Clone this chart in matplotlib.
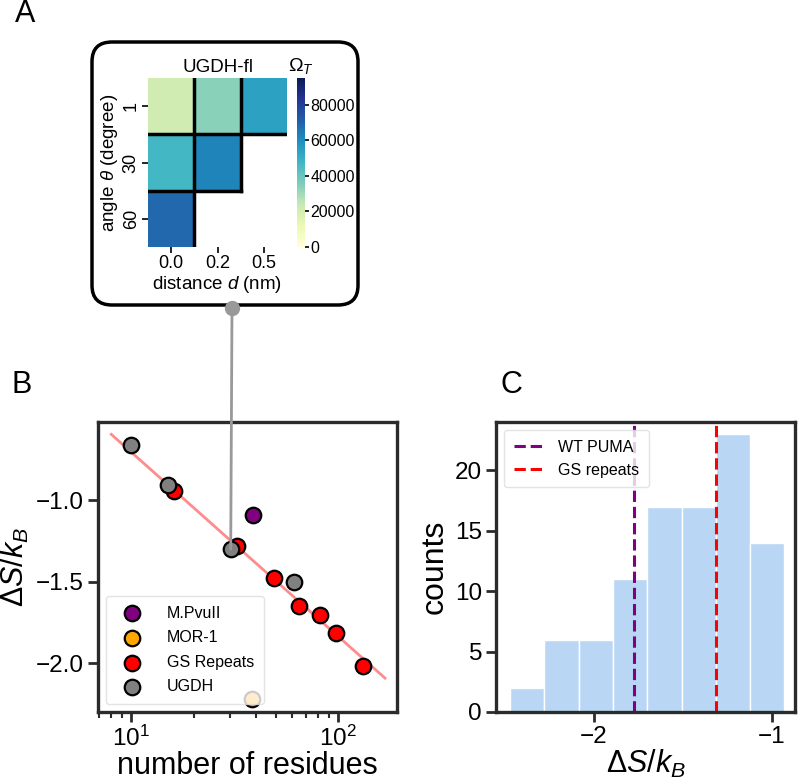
import numpy as np
import matplotlib
matplotlib.use("Agg")
import matplotlib.pyplot as plt
from matplotlib.patches import FancyBboxPatch, ConnectionPatch
from matplotlib.lines import Line2D

plt.rcParams['font.family'] = ['Liberation Sans', 'DejaVu Sans']
plt.rcParams['mathtext.fontset'] = 'custom'
plt.rcParams['mathtext.rm'] = 'Liberation Sans'
plt.rcParams['mathtext.it'] = 'Liberation Sans:italic'
plt.rcParams['axes.unicode_minus'] = True

# --- panel A: UGDH-fl heatmap (Omega_T) ---
angles = ["1", "30", "60"]
distances = ["0.0", "0.2", "0.5"]
omega = [[21000, 34000, 54000],
         [47000, 62000, np.nan],
         [69000, np.nan, np.nan]]
omega_ticks = [0, 20000, 40000, 60000, 80000]

# --- panel B: entropy vs residues ---
mpvuii_n = [38.5]
mpvuii_s = [-1.088]
mor1_n = [38.3]
mor1_s = [-2.218]
gs_n = [16.1, 32.4, 48.8, 64.7, 81.5, 97.3, 131]
gs_s = [-0.945, -1.28, -1.479, -1.647, -1.704, -1.816, -2.02]
ugdh_n = [10.0, 15.1, 30.2, 61]
ugdh_s = [-0.663, -0.908, -1.30, -1.50]
fit_n = [8.0, 168]
fit_s = [-0.596, -2.092]
highlight = (30.2, -1.30)

# --- panel C: histogram ---
bin_edges = [-2.47, -2.2775, -2.085, -1.8925, -1.70, -1.5075, -1.315, -1.1225, -0.93]
counts = [2, 6, 6, 11, 17, 17, 23, 14]
wt_puma = -1.774
gs_repeats = -1.314

spine_c = '#2b2b2b'

fig = plt.figure(figsize=(8, 7.84), dpi=100)
W, H = 800, 784


def px(x0, y0, x1, y1):
    return [x0 / W, 1 - y1 / H, (x1 - x0) / W, (y1 - y0) / H]


def style_axes(ax):
    for s in ax.spines.values():
        s.set_color(spine_c)
        s.set_linewidth(2.4)
    ax.tick_params(which='major', length=7, width=2, color=spine_c, labelsize=17.5, pad=3)
    ax.tick_params(which='minor', length=4, width=1.5, color=spine_c)


# box around panel A
box = FancyBboxPatch((92 / W, 1 - 305 / H), 266 / W, 263 / H,
                     boxstyle="round,pad=0,rounding_size=0.025",
                     transform=fig.transFigure, fill=False, lw=2.5, ec='black')
fig.patches.append(box)

axA = fig.add_axes(px(148, 78, 287, 247))
data = np.ma.masked_invalid(np.array(omega, dtype=float))
im = axA.imshow(data, cmap='YlGnBu', vmin=0, vmax=95000, aspect='auto')
for s in axA.spines.values():
    s.set_visible(False)
axA.set_xticks(range(3))
axA.set_xticklabels(distances)
axA.set_yticks(range(3))
axA.set_yticklabels(angles, rotation=90, va='center')
axA.tick_params(length=4, width=1.2, labelsize=13, pad=2)
axA.set_xlabel(r"distance $d$ (nm)", fontsize=13.5, labelpad=1)
axA.set_ylabel(r"angle $\theta$ (degree)", fontsize=13.5, labelpad=2)
axA.set_title("UGDH-fl", fontsize=13.5, pad=4)
lw = 2.5
axA.plot([0.5, 0.5], [-0.5, 2.5], color='black', lw=lw)
axA.plot([1.5, 1.5], [-0.5, 1.5], color='black', lw=lw)
axA.plot([-0.5, 2.5], [0.5, 0.5], color='black', lw=lw)
axA.plot([-0.5, 1.5], [1.5, 1.5], color='black', lw=lw)
axA.set_xlim(-0.5, 2.5)
axA.set_ylim(2.5, -0.5)

cax = fig.add_axes(px(297, 78, 305, 247))
cb = fig.colorbar(im, cax=cax, ticks=omega_ticks)
cb.outline.set_visible(False)
cb.ax.tick_params(labelsize=11.5, length=3, width=1.2, pad=1)
cb.ax.set_title(r"$\Omega_T$", fontsize=14, pad=5)

# --- panel B ---
axB = fig.add_axes(px(98, 422, 397, 712))
axB.plot(fit_n, fit_s, color='#ff8c8c', lw=2, zorder=1)
kw = dict(s=125, edgecolors='black', linewidths=1.6, zorder=3)
axB.scatter(mpvuii_n, mpvuii_s, color='purple', label='M.PvuII', **kw)
axB.scatter(mor1_n, mor1_s, color='orange', label='MOR-1', **kw)
axB.scatter(gs_n, gs_s, color='red', label='GS Repeats', **kw)
axB.scatter(ugdh_n, ugdh_s, color='gray', label='UGDH', **kw)
axB.set_xscale('log')
axB.set_xlim(6.9, 192)
axB.set_ylim(-2.3, -0.52)
axB.set_yticks([-2.0, -1.5, -1.0])
axB.set_yticklabels(["\u22122.0", "\u22121.5", "\u22121.0"])
style_axes(axB)
axB.set_xlabel("number of residues", fontsize=22, labelpad=0)
axB.set_ylabel(r"$\Delta S/k_B$", fontsize=22, labelpad=4)
leg = axB.legend(loc='lower left', fontsize=11.5, frameon=True, handletextpad=1.2,
                 borderpad=0.6, labelspacing=0.6)
leg.get_frame().set_edgecolor('#dddddd')

# connector from panel A box to the UGDH-fl point
con = ConnectionPatch(xyA=(0.29, 1 - 308 / H), coordsA=fig.transFigure,
                      xyB=highlight, coordsB=axB.transData,
                      color='#999999', lw=2, zorder=5)
fig.add_artist(con)
fig.add_artist(Line2D([0.29], [1 - 308 / H], marker='o', markersize=10,
                      color='#999999', transform=fig.transFigure))

# --- panel C ---
axC = fig.add_axes(px(496, 422, 795, 712))
axC.bar(bin_edges[:-1], counts, width=np.diff(bin_edges), align='edge',
        color='#b9d7f5', edgecolor='white', linewidth=1)
axC.axvline(wt_puma, color='purple', ls='--', lw=2.2, label='WT PUMA')
axC.axvline(gs_repeats, color='red', ls='--', lw=2.2, label='GS repeats')
axC.set_xlim(-2.55, -0.87)
axC.set_ylim(0, 24.0)
axC.set_xticks([-2, -1])
axC.set_yticks([0, 5, 10, 15, 20])
style_axes(axC)
axC.set_xlabel(r"$\Delta S/k_B$", fontsize=22, labelpad=0)
axC.set_ylabel("counts", fontsize=23, labelpad=4)
leg = axC.legend(loc='upper left', fontsize=11.5, frameon=True, borderpad=0.6)
leg.get_frame().set_edgecolor('#dddddd')

# panel letters
fig.text(25 / W, 1 - 14 / H, "A", fontsize=22, ha='center', va='center')
fig.text(22 / W, 1 - 385 / H, "B", fontsize=22, ha='center', va='center')
fig.text(511 / W, 1 - 385 / H, "C", fontsize=22, ha='center', va='center')

fig.savefig("out.png", dpi=100)
